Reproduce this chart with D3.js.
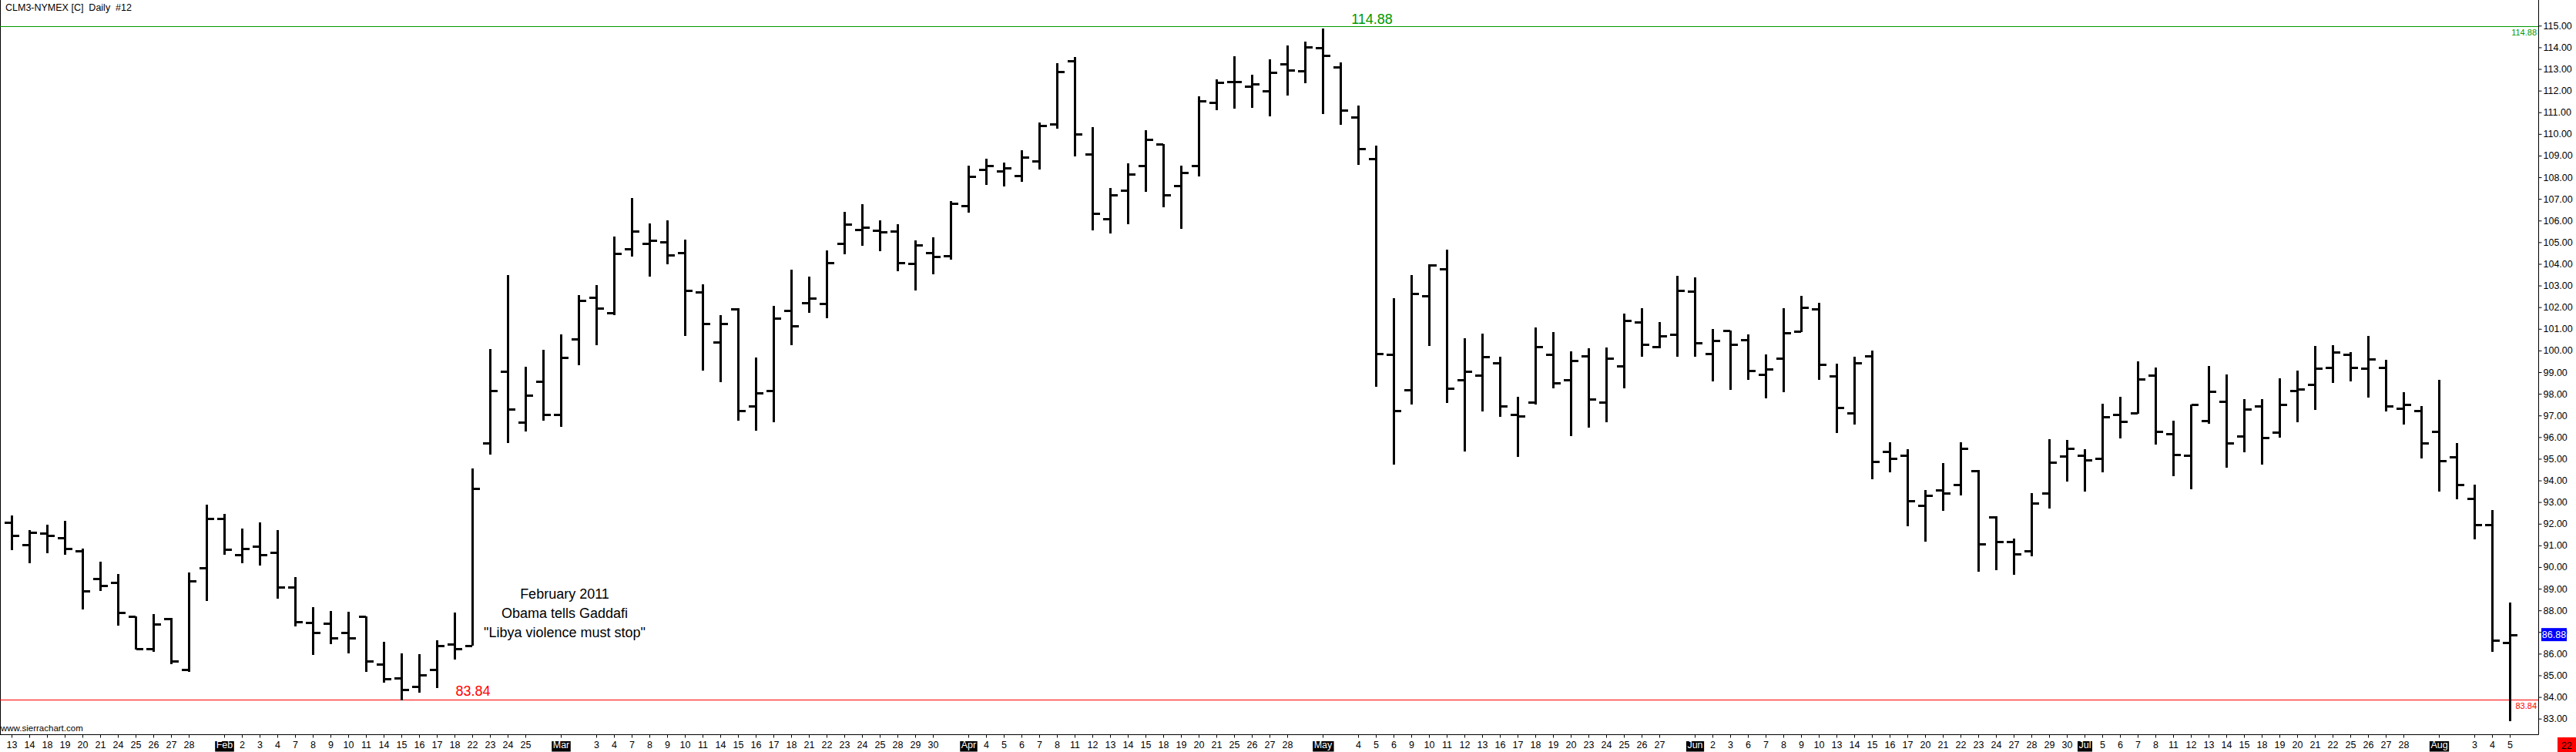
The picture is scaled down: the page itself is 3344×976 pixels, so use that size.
<!DOCTYPE html>
<html>
<head>
<meta charset="utf-8">
<script src="https://cdn.jsdelivr.net/npm/d3@7"></script>
<style>
  html, body { margin: 0; padding: 0; background: #fff; }
  svg { display: block; }
  text { font-family: "Liberation Sans", Arial, sans-serif; }
</style>
</head>
<body>
<svg id="chart" width="3344" height="976"></svg>
<script>
// ---- DATA ----
const dayLabels = ["13","14","18","19","20","21","24","25","26","27","28","",
  "Feb","2","3","4","7","8","9","10","11","14","15","16","17","18","22","23","24","25","",
  "Mar","","3","4","7","8","9","10","11","14","15","16","17","18","21","22","23","24","25","28","29","30","",
  "Apr","4","5","6","7","8","11","12","13","14","15","18","19","20","21","25","26","27","28","",
  "May","","4","5","6","9","10","11","12","13","16","17","18","19","20","23","24","25","26","27","",
  "Jun","2","3","6","7","8","9","10","13","14","15","16","17","20","21","22","23","24","27","28","29","30",
  "Jul","5","6","7","8","11","12","13","14","15","18","19","20","21","22","25","26","27","28","",
  "Aug","","3","4","5"];
const monthNames = ["Feb","Mar","Apr","May","Jun","Jul","Aug"];

const openV = [92.07,91.04,91.58,91.36,90.74,89.48,89.29,87.72,86.21,87.61,85.27,89.97,
  92.23,90.58,90.95,90.68,89.08,87.44,87.39,86.98,87.72,85.53,84.88,84.47,85.27,86.43,86.38,95.72,99.04,96.67,98.57,
  97.03,100.53,102.45,101.75,104.71,104.94,105.03,104.52,102.69,100.38,101.93,97.44,98.13,101.83,102.19,102.15,104.94,105.57,105.53,105.51,104.00,104.50,104.36,
  106.67,108.36,108.27,108.09,108.75,110.44,113.36,109.07,106.07,107.38,108.54,109.54,107.62,108.54,111.44,112.41,112.21,112.00,113.24,112.90,
  113.98,113.08,110.79,108.86,99.83,98.17,102.53,103.77,98.64,98.85,99.44,97.05,97.60,99.81,98.63,99.74,97.60,99.30,101.31,100.19,100.74,
  102.73,99.85,100.92,100.49,98.88,99.64,100.88,101.91,98.81,97.13,99.73,95.33,95.15,92.84,93.55,93.80,94.44,92.31,91.19,90.73,93.41,95.13,
  95.16,95.00,97.03,97.10,98.84,96.15,95.16,96.77,97.65,96.06,97.42,96.22,98.16,98.43,99.23,99.82,99.19,99.23,97.32,97.23,
  96.26,95.09,93.18,91.96,86.51];
const highV = [92.38,91.69,91.97,92.13,90.87,90.25,89.68,87.73,87.82,87.64,89.76,92.87,
  92.47,91.77,92.07,91.69,89.53,88.15,87.96,87.93,87.73,86.54,86.00,85.97,86.62,87.90,94.55,100.06,103.49,99.25,100.03,
  100.74,102.57,103.02,105.27,107.03,105.87,106.01,105.12,103.05,101.65,101.95,99.67,102.07,103.73,103.40,104.62,106.40,106.76,106.01,105.83,105.07,105.21,106.90,
  108.53,108.85,108.66,109.24,110.52,113.26,113.54,110.31,107.50,108.64,110.17,109.54,108.54,111.72,112.52,113.60,112.73,113.46,114.07,114.25,
  114.88,113.29,111.30,109.47,102.43,103.47,103.98,104.64,100.56,100.77,99.70,97.86,101.06,100.85,99.96,100.09,100.13,101.71,101.95,101.30,103.43,
  103.37,100.98,100.92,100.74,99.82,101.95,102.52,102.19,99.39,99.70,99.98,95.78,95.45,93.55,94.81,95.76,94.48,92.36,91.33,93.41,95.91,95.87,
  95.44,97.54,97.87,99.49,99.23,96.77,97.51,99.27,98.91,97.77,97.74,98.72,99.06,100.20,100.24,99.92,100.66,99.56,98.07,97.42,
  98.63,95.71,93.80,92.63,88.36];
const lowV = [90.79,90.17,90.63,90.55,88.05,88.91,87.31,86.18,86.10,85.51,85.15,88.45,
  90.55,90.17,90.06,88.54,87.25,85.94,86.43,86.00,85.15,84.66,83.84,84.21,84.42,85.73,86.38,95.20,95.72,96.26,96.77,
  96.46,99.31,100.23,101.62,104.35,103.41,103.99,100.67,99.08,98.55,96.77,96.28,96.67,100.23,101.75,101.50,104.44,104.83,104.60,103.67,102.78,103.53,104.21,
  106.38,107.64,107.59,107.80,108.34,110.23,108.97,105.55,105.39,105.84,107.31,106.61,105.60,108.05,111.11,111.18,111.22,110.83,111.79,112.35,
  110.93,110.41,108.58,98.34,94.72,97.50,100.21,97.57,95.33,97.19,96.92,95.09,97.50,98.24,96.05,96.43,96.67,98.25,99.70,100.11,99.70,
  99.70,98.56,98.19,98.63,97.80,98.09,100.86,98.66,96.20,96.59,94.06,94.36,91.89,91.18,92.58,93.29,89.77,89.87,89.65,90.50,92.70,93.95,
  93.47,94.38,95.93,97.07,95.65,94.19,93.60,96.60,94.60,95.29,94.74,95.99,96.68,97.25,98.50,98.59,97.84,97.19,96.58,95.03,
  93.47,93.12,91.27,86.10,82.89];
const closeV = [91.45,91.61,91.45,90.87,88.88,89.16,87.90,86.21,87.36,85.64,89.37,92.23,
  90.82,90.87,90.58,89.08,87.49,86.98,86.74,86.74,85.64,84.83,84.34,85.02,86.38,86.21,93.62,98.14,97.29,97.92,97.03,
  99.66,102.31,101.97,104.47,105.51,105.07,104.42,102.76,101.24,101.24,97.21,98.04,101.48,101.12,102.40,104.06,105.83,105.68,105.46,104.04,104.86,104.32,106.78,
  108.02,108.53,108.43,108.92,110.38,112.87,109.99,106.33,107.17,108.16,109.75,107.17,108.20,111.51,112.38,112.41,112.29,112.84,112.94,114.01,
  113.62,111.11,109.31,99.86,97.22,102.63,103.94,98.24,99.04,99.72,97.43,96.97,100.17,98.49,99.55,97.74,99.64,101.38,100.27,100.67,102.77,
  100.35,100.46,100.28,99.07,99.13,100.81,101.98,99.34,97.35,99.42,94.86,95.01,93.05,93.29,93.43,95.46,91.06,91.19,90.62,92.96,94.83,95.48,
  94.96,96.93,96.71,98.69,96.26,95.18,97.51,98.11,95.71,97.29,95.96,97.52,98.22,99.17,99.92,99.23,99.62,97.45,97.51,95.74,
  94.92,93.82,91.96,86.62,86.88];

const priceTicks = d3.range(83, 116);
const highLine = 114.88, lowLine = 83.84, lastPrice = 86.88;
const titleText = "CLM3-NYMEX [C]  Daily  #12";
const noteLines = ["February 2011", "Obama tells Gaddafi", "\"Libya violence must stop\""];

// ---- BUILD ----
const bars = dayLabels.map((lab, i) => ({i, lab, o: openV[i], h: highV[i], l: lowV[i], c: closeV[i]}));

const W = 3344, H = 976;
const axisX = 3295.5, axisY = 953.5;
const svg = d3.select("#chart");

const x = d3.scalePoint().domain(d3.range(bars.length)).range([15, 3258]);
const y = d3.scaleLinear().domain([83, 115]).range([932.7, 33.3]);

svg.append("rect").attr("width", W).attr("height", H).attr("fill", "#fff");

// left border
svg.append("line").attr("x1", 0.5).attr("x2", 0.5).attr("y1", 0).attr("y2", axisY)
  .attr("stroke", "#000").attr("stroke-width", 1);

// title
svg.append("text").attr("x", 7).attr("y", 14).attr("font-size", 12.5)
  .style("white-space", "pre").attr("fill", "#000").text(titleText);

// horizontal lines
svg.append("line").attr("x1", 0).attr("x2", axisX).attr("y1", Math.round(y(highLine)) - 2.5).attr("y2", Math.round(y(highLine)) - 2.5)
  .attr("stroke", "#009900").attr("stroke-width", 1);
svg.append("line").attr("x1", 0).attr("x2", axisX).attr("y1", Math.round(y(lowLine)) - 0.5).attr("y2", Math.round(y(lowLine)) - 0.5)
  .attr("stroke", "#ff0000").attr("stroke-width", 1);

// bars
const g = svg.append("g").attr("shape-rendering", "crispEdges").attr("fill", "#000");
g.selectAll("rect.hl").data(bars).join("rect").attr("class", "hl")
  .attr("x", d => Math.round(x(d.i)) - 1).attr("width", 3)
  .attr("y", d => Math.round(y(d.h))).attr("height", d => Math.max(1, Math.round(y(d.l)) - Math.round(y(d.h))));
g.selectAll("rect.op").data(bars).join("rect").attr("class", "op")
  .attr("x", d => Math.round(x(d.i)) - 9).attr("width", 9)
  .attr("y", d => Math.round(y(d.o)) - 1).attr("height", 3);
g.selectAll("rect.cl").data(bars).join("rect").attr("class", "cl")
  .attr("x", d => Math.round(x(d.i)) + 1).attr("width", 9)
  .attr("y", d => Math.round(y(d.c)) - 1).attr("height", 3);

// big labels for lines
svg.append("text").attr("x", 1781).attr("y", 31).attr("text-anchor", "middle")
  .attr("font-size", 18).attr("fill", "#009900").text(highLine.toFixed(2));
svg.append("text").attr("x", 614).attr("y", 903).attr("text-anchor", "middle")
  .attr("font-size", 18).attr("fill", "#ff0000").text(lowLine.toFixed(2));
// small labels near axis
svg.append("text").attr("x", 3293).attr("y", 46).attr("text-anchor", "end")
  .attr("font-size", 11).attr("fill", "#009900").text(highLine.toFixed(2));
svg.append("text").attr("x", 3293).attr("y", 920).attr("text-anchor", "end")
  .attr("font-size", 11).attr("fill", "#ff0000").text(lowLine.toFixed(2));

// annotation
svg.append("g").selectAll("text").data(noteLines).join("text")
  .attr("x", 733).attr("y", (d, i) => 777 + i * 25).attr("text-anchor", "middle")
  .attr("font-size", 18).attr("fill", "#000").text(d => d);

// right axis
const yAxis = d3.axisRight(y).tickValues(priceTicks).tickFormat(d3.format(".2f")).tickSize(4).tickPadding(2);
const ya = svg.append("g").attr("transform", `translate(${axisX},0)`).call(yAxis);
ya.select(".domain").remove();
ya.selectAll("text").attr("font-size", 12.5).attr("fill", "#000").attr("font-family", "Liberation Sans, Arial, sans-serif");
ya.selectAll("line").attr("stroke", "#000");
svg.append("line").attr("x1", axisX).attr("x2", axisX).attr("y1", 0).attr("y2", axisY)
  .attr("stroke", "#000").attr("stroke-width", 1);

// last price box
const lpY = y(lastPrice);
svg.append("rect").attr("x", 3299).attr("y", lpY - 8.5).attr("width", 33).attr("height", 17).attr("fill", "#0000ff");
svg.append("text").attr("x", 3315.5).attr("y", lpY + 4.5).attr("text-anchor", "middle")
  .attr("font-size", 12.5).attr("fill", "#fff").text(lastPrice.toFixed(2));

// bottom axis
svg.append("line").attr("x1", 0).attr("x2", axisX).attr("y1", axisY).attr("y2", axisY)
  .attr("stroke", "#000").attr("stroke-width", 1);
const shown = bars.filter(d => d.lab !== "");
const xAxis = d3.axisBottom(x).tickValues(shown.map(d => d.i)).tickFormat(i => dayLabels[i]).tickSize(4).tickPadding(5);
const xa = svg.append("g").attr("transform", `translate(0,${axisY})`).call(xAxis);
xa.select(".domain").remove();
xa.selectAll("line").attr("stroke", "#000");
xa.selectAll("text").attr("font-size", 12.5).attr("fill", "#000").attr("font-family", "Liberation Sans, Arial, sans-serif");
// month labels: black box, white text
xa.selectAll(".tick").filter(i => monthNames.includes(dayLabels[i])).each(function(i) {
  const t = d3.select(this);
  t.select("text").attr("fill", "#fff");
  const bb = this.querySelector("text").getBBox();
  t.insert("rect", "text").attr("x", bb.x - 1.5).attr("y", 8.5).attr("width", bb.width + 3).attr("height", 13.5).attr("fill", "#000");
});

// watermark
svg.append("text").attr("x", 1).attr("y", 949).attr("font-size", 11.5).attr("fill", "#000").text("www.sierrachart.com");

// red box bottom right
svg.append("rect").attr("x", 3320).attr("y", 957).attr("width", 24).attr("height", 19).attr("fill", "#ff0000");
svg.append("text").attr("x", 3332).attr("y", 972).attr("text-anchor", "middle").attr("font-size", 12.5).attr("fill", "#000").text("22");
</script>
</body>
</html>
